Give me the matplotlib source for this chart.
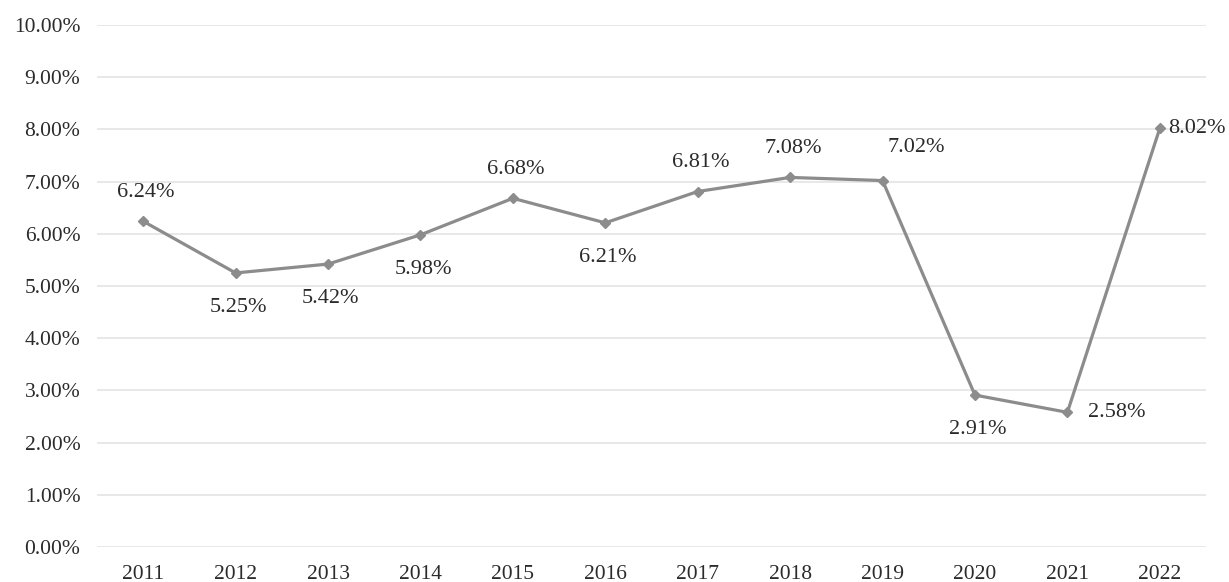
import matplotlib
matplotlib.use("Agg")
import matplotlib.pyplot as plt
from matplotlib.ticker import FuncFormatter, MultipleLocator

years = ["2011", "2012", "2013", "2014", "2015", "2016", "2017", "2018", "2019", "2020", "2021", "2022"]
rates = [6.24, 5.25, 5.42, 5.98, 6.68, 6.21, 6.81, 7.08, 7.02, 2.91, 2.58, 8.02]
label_pos = ["above", "below", "below", "below", "above", "below", "above", "above", "aboveright", "below", "right", "right"]

plt.rcParams['font.family'] = ['Liberation Serif', 'DejaVu Serif']

W, H = 1229, 582
fig = plt.figure(figsize=(W / 100, H / 100), dpi=100)
left, right, top, bottom = 97, 1206, 25, 547
ax = fig.add_axes([left / W, (H - bottom) / H, (right - left) / W, (bottom - top) / H])

x = list(range(len(years)))
ax.plot(x, rates, color='#8c8c8c', lw=2.3, marker='D', markersize=5.5,
        markerfacecolor='#8c8c8c', markeredgecolor='#8c8c8c', zorder=3)

fs = 16
col = '#2b2b2b'
for xi, v, p in zip(x, rates, label_pos):
    txt = f"{v:.2f}%"
    if p == "above":
        off, ha = (2, 21), 'center'
    elif p == "below":
        off, ha = (2, -25), 'center'
    elif p == "aboveright":
        off, ha = (24, 24), 'center'
    else:
        off, ha = (6 if v > 5 else 15, 0), 'left'
    ax.annotate(txt, (xi, v), xytext=off, textcoords='offset points',
                ha=ha, va='center', fontsize=fs, color=col)

ax.set_ylim(0, 10)
ax.set_xlim(-0.5, 11.5)
ax.yaxis.set_major_locator(MultipleLocator(1))
ax.yaxis.set_major_formatter(FuncFormatter(lambda v, _: f"{v:.2f}%"))
ax.set_xticks(x)
ax.set_xticklabels(years)
ax.grid(axis='y', color='#e6e6e6', lw=1.3)
ax.set_axisbelow(True)
for s in ax.spines.values():
    s.set_visible(False)
ax.tick_params(axis='both', length=0, labelsize=15.5, colors=col)
ax.tick_params(axis='y', pad=12)
ax.tick_params(axis='x', pad=13)

fig.savefig("out.png", dpi=100, facecolor='white')
